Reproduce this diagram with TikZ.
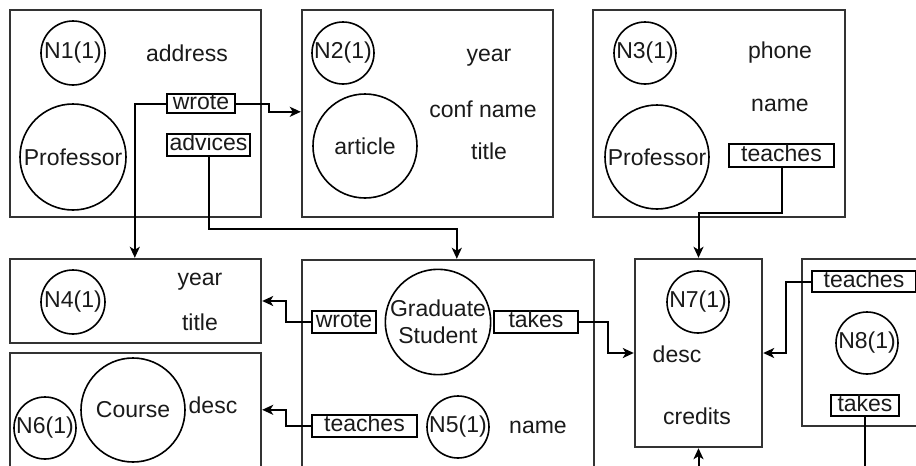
\documentclass[tikz,border=0pt]{standalone}
\usepackage{fontspec}
\setmainfont{Liberation Sans}
\usetikzlibrary{arrows.meta,calc}
\definecolor{boxc}{HTML}{333333}
\definecolor{txt}{HTML}{1A1A1A}
\begin{document}
\begin{tikzpicture}[x=1pt,y=-1pt,
  every node/.style={font=\fontsize{23}{27}\selectfont, text=txt},
  box/.style={draw=boxc, line width=2.4pt, rectangle, inner sep=0pt},
  circ/.style={draw=black, line width=1.6pt, circle, inner sep=0pt},
  lbl/.style={draw=black, line width=2pt, rectangle, inner sep=0pt, minimum height=21pt, text height=15.5pt, text depth=4pt},
  attr/.style={inner sep=0pt},
  arr/.style={draw=black, line width=2pt, -{Stealth[length=11pt,width=10pt,inset=3pt]}}]
\useasboundingbox (0,0) rectangle (916,466);
\clip (0,0) rectangle (916,466);
\fill[white] (0,0) rectangle (916,466);
% containers
\node[box, minimum width=251pt, minimum height=207pt] (B1) at (135.5,113.5) {};
\node[box, minimum width=251pt, minimum height=207pt] (B2) at (427.5,113.5) {};
\node[box, minimum width=252pt, minimum height=207pt] (B3) at (719,113.5) {};
\node[box, minimum width=251pt, minimum height=84pt] (B4) at (135.5,301) {};
\node[box, minimum width=251pt, minimum height=127pt] (B6) at (135.5,416.5) {};
\node[box, minimum width=292pt, minimum height=220pt] (B5) at (448,370) {};
\node[box, minimum width=127pt, minimum height=188pt] (B7) at (698.5,353) {};
\node[box, minimum width=138pt, minimum height=167pt] (B8) at (871,342.5) {};
% circles
\node[circ, minimum size=64pt] (c1) at (73,53) {N1(1)};
\node[circ, minimum size=106pt] (p1) at (73,157) {Professor};
\node[circ, minimum size=62pt] (c2) at (343,53) {N2(1)};
\node[circ, minimum size=104pt] (a2) at (365,146) {article};
\node[circ, minimum size=62pt] (c3) at (645,53) {N3(1)};
\node[circ, minimum size=104pt] (p3) at (657,157) {Professor};
\node[circ, minimum size=64pt] (c4) at (73,302) {N4(1)};
\node[circ, minimum size=62pt] (c6) at (45,428) {N6(1)};
\node[circ, minimum size=104pt] (co) at (133,410) {Course};
\node[circ, minimum size=104pt, align=center] (gs) at (438,322) {Graduate\\Student};
\node[circ, minimum size=62pt] (c5) at (458,427) {N5(1)};
\node[circ, minimum size=62pt] (c7) at (698,302) {N7(1)};
\node[circ, minimum size=62pt] (c8) at (867,343) {N8(1)};
% attributes
\node[attr] (t1) at (187,53) {address};
\node[attr] (t2) at (489,58) {year};
\node[attr] (t3) at (483,109) {conf name};
\node[attr] (t4) at (489,151) {title};
\node[attr] (t5) at (780,53) {phone};
\node[attr] (t6) at (780,105) {name};
\node[attr] (t7) at (200,282) {year};
\node[attr] (t8) at (200,322) {title};
\node[attr] (t9) at (213,405) {desc};
\node[attr] (t10) at (538,427) {name};
\node[attr] (t11) at (677,354) {desc};
\node[attr] (t12) at (697,416) {credits};
% relation labels
\node[lbl, minimum width=68pt, minimum height=19pt] (w1) at (201,103.5) {wrote};
\node[lbl, minimum width=83pt, minimum height=22pt] (a1) at (208.5,145) {advices};
\node[lbl, minimum width=105pt, minimum height=23pt] (k3) at (781.5,155.5) {teaches};
\node[lbl, minimum width=64pt, minimum height=22pt] (w5) at (344,322) {wrote};
\node[lbl, minimum width=84pt, minimum height=22pt] (k5) at (536,322) {takes};
\node[lbl, minimum width=105pt, minimum height=22pt] (e5) at (364.5,426) {teaches};
\node[lbl, minimum width=104pt, minimum height=21pt] (e8) at (864,281.5) {teaches};
\node[lbl, minimum width=68pt, minimum height=21pt] (k8) at (865,405.5) {takes};
% connectors
\draw[arr] (w1.west) -| ($(B4.north west)+(126,0)$);
\draw[arr] (w1.east) -- ++(33,0) |- ($(B2.north west)+(0,103)$);
\draw[arr] (a1.south) -- ++(0,72) -| ($(B5.north west)+(156,0)$);
\draw[arr] (k3.south) -- ++(0,45) -| (B7.north);
\draw[arr] (w5.west) -- ++(-25,0) |- (B4.east);
\draw[arr] (e5.west) -- ++(-25,0) |- ($(B6.north east)+(0,58)$);
\draw[arr] (k5.east) -- ++(29,0) |- (B7.west);
\draw[arr] (e8.west) -- ++(-25,0) |- (B7.east);
\draw[arr] (k8.south) -- ++(0,74) -| (B7.south);
\end{tikzpicture}
\end{document}
